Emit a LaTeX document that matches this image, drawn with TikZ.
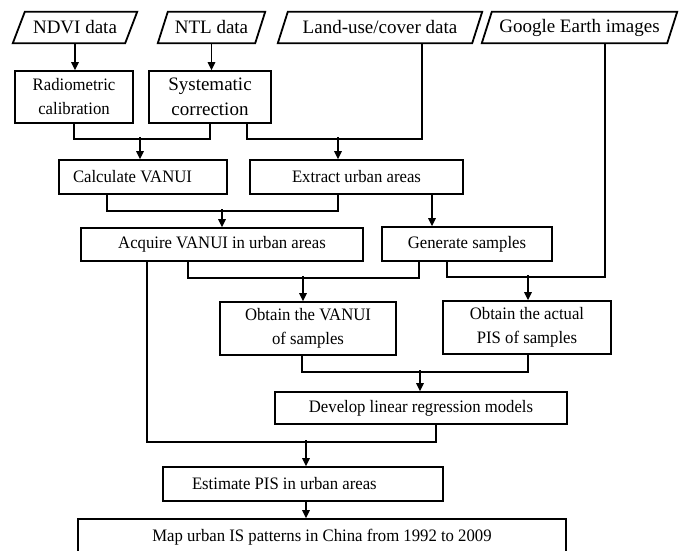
\documentclass[tikz,border=0pt]{standalone}
\usepackage{fontspec}
\setmainfont{Liberation Serif}
\usetikzlibrary{calc,arrows.meta}
\newcommand\fbig{\fontsize{19}{25}\selectfont}
\newcommand\fsm{\fontsize{17.5}{24}\selectfont\addfontfeature{FakeStretch=0.955}}
\newcommand\pgram[2]{\draw[line width=1.8pt, line join=miter] (#1.south west) -- ($(#1.north west)+(#2,0)$) -- (#1.north east) -- ($(#1.south east)+(-#2,0)$) -- cycle;}
\begin{document}
\begin{tikzpicture}[x=1pt,y=-1pt,
  box/.style={draw, line width=1.8pt, inner sep=0pt, align=center, font=\fsm},
  inbox/.style={inner sep=0pt, minimum height=31pt, font=\fbig},
  conn/.style={line width=1.5pt},
  arr/.style={line width=1.5pt, -{Triangle[length=8pt,width=7.5pt]}}]
\useasboundingbox (0,0) rectangle (686,551);
\fill[white] (0,0) rectangle (686,551);
% inputs
\node[inbox, minimum width=124pt] (ndvi) at (75,27.5) {NDVI data};
\node[inbox, minimum width=107pt] (ntl) at (211.5,27.5) {NTL data};
\node[inbox, minimum width=204pt] (land) at (380,27.5) {Land-use/cover data};
\node[inbox, minimum width=195pt] (ge) at (579.5,27.5) {Google Earth images};
\pgram{ndvi}{12}
\pgram{ntl}{10}
\pgram{land}{10}
\pgram{ge}{10}
% process boxes
\node[box, minimum width=118pt, minimum height=52pt] (rad) at (74,97) {Radiometric\\calibration};
\node[box, minimum width=122pt, minimum height=52pt, font=\fontsize{19}{25}\selectfont] (sys) at (210,97) {Systematic\\correction};
\node[box, text width=168pt, align=flush left, minimum height=34pt] (calc) at (143,177) {\hspace*{14pt}Calculate VANUI};
\node[box, minimum width=213pt, minimum height=34pt] (extr) at (356.5,177) {Extract urban areas};
\node[box, minimum width=282pt, minimum height=33pt] (acq) at (222,244.5) {Acquire VANUI in urban areas};
\node[box, minimum width=170pt, minimum height=34pt] (gen) at (467,244) {Generate samples};
\node[box, minimum width=176pt, minimum height=53pt] (obv) at (308,328.5) {Obtain the VANUI\\of samples};
\node[box, minimum width=168pt, minimum height=53pt] (obp) at (527,327.5) {Obtain the actual\\PIS of samples};
\node[box, minimum width=292pt, minimum height=32pt] (dev) at (421,408) {Develop linear regression models};
\node[box, text width=280pt, align=flush left, minimum height=34pt] (est) at (303,484) {\hspace*{29pt}Estimate PIS in urban areas};
\node[box, minimum width=488pt, minimum height=36pt] (map) at (322,537) {Map urban IS patterns in China from 1992 to 2009};
% connectors
\draw[arr] (ndvi.south) -- (ndvi.south |- rad.north);
\draw[arr] (ntl.south) -- (ntl.south |- sys.north);
\coordinate (j1) at ($(rad.south)+(0,15)$);
\draw[conn] (rad.south) -- (j1) -| (sys.south);
\draw[arr] ($(calc.north)+(-3,-22)$) -- ($(calc.north)+(-3,0)$);
\coordinate (j2) at ($(sys.south)+(37,15)$);
\draw[conn] ($(sys.south)+(37,0)$) -- (j2) -| ($(land.south)+(42,0)$);
\draw[arr] ($(extr.north)+(-18.5,-22)$) -- ($(extr.north)+(-18.5,0)$);
\draw[conn] ($(calc.south)+(-36,0)$) -- ++(0,16) -| ($(extr.south)+(-18.5,0)$);
\draw[arr] ($(acq.north)+(0,-18)$) -- (acq.north);
\draw[arr] ($(extr.south)+(75.5,0)$) -- ($(gen.north)+(-35,0)$);
\draw[conn] ($(acq.south)+(-34,0)$) -- ++(0,16) -| ($(gen.south)+(-48,0)$);
\draw[arr] ($(obv.north)+(-5,-25)$) -- ($(obv.north)+(-5,0)$);
\draw[conn] ($(gen.south)+(-20,0)$) -- ++(0,15) -| ($(ge.south)+(25.5,0)$);
\draw[arr] ($(obp.north)+(1,-25)$) -- ($(obp.north)+(1,0)$);
\draw[conn] ($(acq.south)+(-75,0)$) |- ($(dev.south)+(15,17)$) -- ($(dev.south)+(15,0)$);
\draw[arr] ($(est.north)+(3,-26)$) -- ($(est.north)+(3,0)$);
\draw[conn] ($(obv.south)+(-6,0)$) |- ($(obp.south)+(1,17)$) -- ($(obp.south)+(1,0)$);
\draw[arr] ($(dev.north)+(-1,-21)$) -- ($(dev.north)+(-1,0)$);
\draw[arr] ($(est.south)+(3,0)$) -- ($(map.north)+(-16,0)$);
\end{tikzpicture}
\end{document}
